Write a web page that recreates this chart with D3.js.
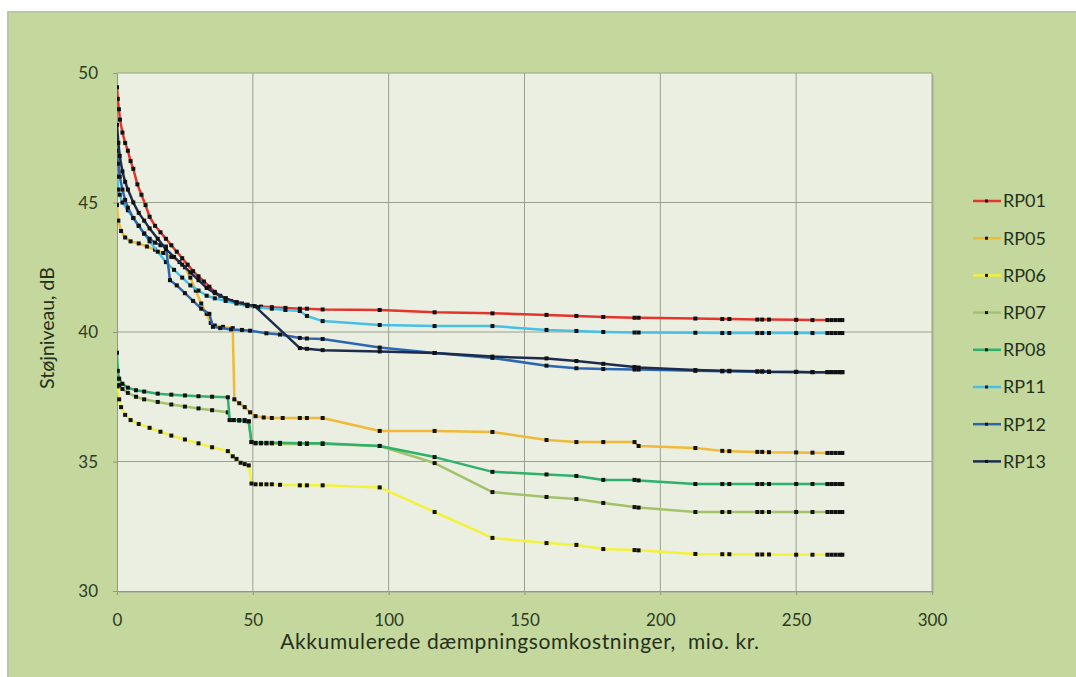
<!DOCTYPE html>
<html><head><meta charset="utf-8">
<script src="https://cdn.jsdelivr.net/npm/d3@7"></script>
<style>body{margin:0;background:#fff}svg{display:block}text{font-family:Lato,"Open Sans",sans-serif}.pre{white-space:pre}</style>
</head><body><svg id="c" width="1076" height="677"></svg>
<script>
// ---------- data ----------
const xTicks = [0, 50, 100, 150, 200, 250, 300];
const yTicks = [30, 35, 40, 45, 50];
const seriesNames = ["RP01","RP05","RP06","RP07","RP08","RP11","RP12","RP13"];
const seriesColors = ["#e5342c","#efb93a","#f2f23c","#a3c26a","#2db16b","#47c0e6","#2c66b0","#1d2c4c"];

// shared cost values (mio. kr.) for the right-hand part
const tailX = [67.3,69.9,75.7,96.7,116.9,138.2,158.1,169.1,179,190.5,192,212.9,222.8,225.4,235.7,237.5,240,250,256,261.5,263,264.5,266,267];

const rp01HeadX = [0,0.3,0.7,1.1,2,3,4,5,6,7.5,9,10.5,12,14,16,18,20,22,24,26,28,30,32,34,36,38,40,42,44,46,48,50,53,57,62];
const rp01HeadY = [49.45,49.0,48.6,48.2,47.7,47.3,47.0,46.6,46.3,45.7,45.3,44.9,44.45,44.1,43.85,43.6,43.35,43.1,42.85,42.6,42.35,42.15,41.95,41.75,41.55,41.4,41.3,41.2,41.15,41.1,41.05,41.0,40.98,40.96,40.93];
const rp01TailY = [40.9,40.9,40.87,40.85,40.76,40.72,40.66,40.62,40.58,40.55,40.55,40.52,40.5,40.5,40.48,40.48,40.48,40.47,40.46,40.46,40.46,40.46,40.46,40.46];

const rp05HeadX = [0,0.5,1.5,3,5,8,11,14,17,20,23,25,27,29,31,33,34.5,36,39,42.6,43.2,45,47,49,51,54,57,61];
const rp05HeadY = [44.9,44.3,43.9,43.65,43.5,43.42,43.3,43.18,43.05,42.9,42.7,42.5,42.1,41.6,41.1,40.7,40.35,40.25,40.2,40.15,37.4,37.25,37.1,36.9,36.75,36.7,36.68,36.68];
const rp05TailY = [36.68,36.68,36.68,36.18,36.18,36.14,35.83,35.75,35.75,35.75,35.6,35.52,35.41,35.4,35.37,35.37,35.36,35.35,35.34,35.33,35.33,35.33,35.33,35.33];

const rp06HeadX = [0,0.3,0.8,1.5,3,5,8,12,16,20,25,30,35,40.8,42.6,44,45.5,47,48.5,49.5,51,53,55,57,60];
const rp06HeadY = [38.5,37.9,37.4,37.1,36.8,36.6,36.45,36.3,36.15,36.0,35.85,35.7,35.55,35.4,35.2,35.1,34.95,34.9,34.85,34.15,34.12,34.12,34.12,34.12,34.1];
const rp06TailY = [34.08,34.08,34.08,34.0,33.05,32.05,31.85,31.78,31.62,31.58,31.57,31.43,31.42,31.42,31.41,31.41,31.41,31.4,31.4,31.4,31.4,31.4,31.4,31.4];

const rp07HeadX = [0,0.3,0.8,2,4,7,10,15,20,25,30,35,40.8,41.5,43,45,47,48.5,49.5,51,53,55,57,60];
const rp07HeadY = [38.5,38.2,37.95,37.8,37.65,37.5,37.4,37.3,37.2,37.12,37.05,36.98,36.9,36.6,36.6,36.58,36.56,36.55,35.75,35.7,35.7,35.7,35.7,35.68];
const rp07TailY = [35.68,35.68,35.68,35.6,34.94,33.82,33.63,33.55,33.4,33.24,33.22,33.05,33.05,33.05,33.05,33.05,33.05,33.05,33.05,33.05,33.05,33.05,33.05,33.05];

const rp08HeadX = [0,0.3,0.8,2,4,7,10,15,20,25,30,35,40.8,41.5,43,45,47,48.5,49.5,51,53,55,57,60];
const rp08HeadY = [39.2,38.5,38.2,38.0,37.85,37.75,37.7,37.62,37.58,37.55,37.52,37.5,37.48,36.6,36.6,36.6,36.6,36.55,35.75,35.72,35.72,35.72,35.72,35.72];
const rp08TailY = [35.7,35.7,35.7,35.6,35.17,34.6,34.5,34.44,34.29,34.29,34.27,34.13,34.13,34.13,34.13,34.13,34.13,34.13,34.13,34.13,34.13,34.13,34.13,34.13];

const rp11HeadX = [0,0.5,1,2,4,6,8,10,12,15,18,21,24,27,30,33,36,40,44,48,52,57,62];
const rp11HeadY = [46.0,45.5,45.3,45.0,44.7,44.4,44.1,43.8,43.5,43.1,42.7,42.4,42.1,41.8,41.6,41.4,41.3,41.2,41.1,41.0,40.95,40.9,40.85];
const rp11TailY = [40.81,40.62,40.42,40.27,40.23,40.23,40.08,40.04,40.0,39.98,39.98,39.97,39.96,39.96,39.96,39.96,39.96,39.96,39.96,39.96,39.96,39.96,39.96,39.96];

const rp12HeadX = [0,0.5,1,2,3,4,6,8,10,12,14,16,18,19.5,22,25,28,31,34,35.3,38,42,46,49,55,60];
const rp12HeadY = [47.0,46.5,46.0,45.5,45.1,44.8,44.4,44.1,43.8,43.6,43.45,43.35,43.3,42.0,41.8,41.5,41.2,40.9,40.7,40.2,40.15,40.1,40.08,40.05,39.95,39.9];
const rp12TailY = [39.77,39.75,39.73,39.4,39.19,39.0,38.7,38.6,38.57,38.55,38.55,38.5,38.48,38.48,38.47,38.47,38.46,38.46,38.45,38.45,38.45,38.45,38.45,38.45];

const rp13HeadX = [0,0.5,1,2,3,4,6,8,10,12,15,18,21,24,27,30,33,36,40,44,48,50.7];
const rp13HeadY = [48.0,47.3,46.8,46.2,45.8,45.5,45.0,44.6,44.3,44.0,43.6,43.2,42.9,42.6,42.3,42.0,41.7,41.5,41.3,41.15,41.05,41.0];
const rp13TailY = [39.38,39.35,39.3,39.25,39.19,39.05,38.98,38.88,38.77,38.65,38.63,38.53,38.5,38.5,38.48,38.48,38.47,38.46,38.45,38.45,38.45,38.45,38.45,38.45];

const heads = [[rp01HeadX,rp01HeadY,rp01TailY],[rp05HeadX,rp05HeadY,rp05TailY],[rp06HeadX,rp06HeadY,rp06TailY],[rp07HeadX,rp07HeadY,rp07TailY],[rp08HeadX,rp08HeadY,rp08TailY],[rp11HeadX,rp11HeadY,rp11TailY],[rp12HeadX,rp12HeadY,rp12TailY],[rp13HeadX,rp13HeadY,rp13TailY]];
const series = heads.map((h,i)=>({name:seriesNames[i], color:seriesColors[i],
  pts: h[0].map((x,j)=>[x,h[1][j]]).concat(tailX.map((x,j)=>[x,h[2][j]]))}));

// ---------- layout ----------
const svg = d3.select("#c");
const L=117, R=932, T=73, B=591;
svg.append("rect").attr("x",7).attr("y",11).attr("width",1069).attr("height",666).attr("fill","#b9c79f");
svg.append("rect").attr("x",9).attr("y",13).attr("width",1067).attr("height",664).attr("fill","#c4d79c");
svg.append("rect").attr("x",L+2).attr("y",T+2).attr("width",R-L).attr("height",B-T).attr("fill","#b3bf9c");
svg.append("rect").attr("x",L).attr("y",T).attr("width",R-L).attr("height",B-T).attr("fill","#ebefe1");

const x = d3.scaleLinear().domain([0,300]).range([L,R]);
const y = d3.scaleLinear().domain([30,50]).range([B,T]);

const g = svg.append("g");
g.selectAll(".vg").data(xTicks.slice(1)).join("line").attr("x1",d=>x(d)).attr("x2",d=>x(d)).attr("y1",T).attr("y2",B).attr("stroke","#9aa08f").attr("stroke-width",1);
g.selectAll(".hg").data(yTicks.slice(1)).join("line").attr("y1",d=>y(d)).attr("y2",d=>y(d)).attr("x1",L).attr("x2",R).attr("stroke","#9aa08f").attr("stroke-width",1);

const xAxis = svg.append("g").attr("transform",`translate(0,${B})`).call(d3.axisBottom(x).tickValues(xTicks).tickSize(4).tickSizeOuter(0));
const yAxis = svg.append("g").attr("transform",`translate(${L},0)`).call(d3.axisLeft(y).tickValues(yTicks).tickSize(4).tickSizeOuter(0));
[xAxis,yAxis].forEach(a=>{a.select(".domain").attr("stroke","#8f9a80");a.selectAll(".tick line").attr("stroke","#8f9a80");
  a.selectAll("text").attr("font-family","Lato,sans-serif").attr("font-size",17).attr("fill","#2e3a22");});
xAxis.selectAll("text").attr("dy",null).attr("y",35);
yAxis.selectAll("text").attr("x",-19).attr("dy","0.35em");

svg.append("text").attr("class","pre").attr("x",520).attr("y",649).attr("text-anchor","middle").attr("font-size",21).attr("letter-spacing",0.6).attr("fill","#25301c").text("Akkumulerede dæmpningsomkostninger,  mio. kr.");
svg.append("text").attr("transform","translate(54,328) rotate(-90)").attr("text-anchor","middle").attr("font-size",19.5).attr("fill","#25301c").text("Støjniveau, dB");

// ---------- series ----------
const line = d3.line().x(d=>x(d[0])).y(d=>y(d[1]));
svg.append("defs").append("clipPath").attr("id","pc").append("rect").attr("x",L).attr("y",T-6).attr("width",R-L).attr("height",B-T+6);
const sg = svg.append("g").attr("clip-path","url(#pc)");
series.forEach(s=>{
  sg.append("path").attr("d",line(s.pts)).attr("fill","none").attr("stroke",s.color).attr("stroke-width",2.5).attr("stroke-linejoin","round");
  sg.selectAll(null).data(s.pts).join("rect").attr("x",d=>x(d[0])-2).attr("y",d=>y(d[1])-2).attr("width",4).attr("height",4).attr("fill","#111");
});

// ---------- legend ----------
const lg = svg.append("g");
series.forEach((s,i)=>{
  const yy = 201 + i*37.2;
  lg.append("line").attr("x1",973).attr("x2",1001).attr("y1",yy).attr("y2",yy).attr("stroke",s.color).attr("stroke-width",2.5);
  lg.append("rect").attr("x",985).attr("y",yy-1.5).attr("width",3).attr("height",3).attr("fill","#111");
  lg.append("text").attr("x",1003).attr("y",yy).attr("dy","0.35em").attr("font-size",18).attr("fill","#25301c").text(s.name);
});
</script></body></html>
